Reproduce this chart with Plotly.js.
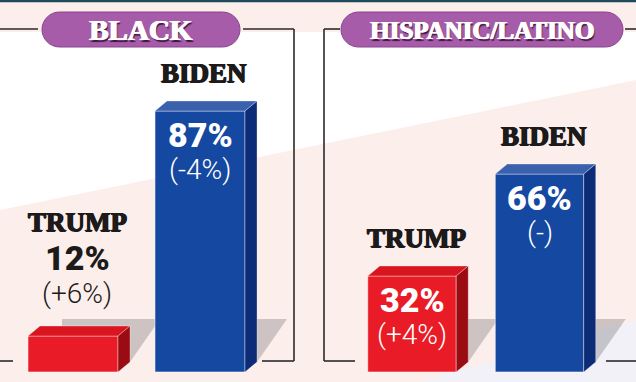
<!DOCTYPE html>
<html>
<head>
<meta charset="utf-8">
<script src="https://cdn.plot.ly/plotly-3.0.1.min.js"></script>
<style>html,body{margin:0;padding:0;background:#fcefeb;}#chart{width:636px;height:382px;}</style>
</head>
<body>
<div id="chart"></div>
<script>
// ---- data ----
const candidates = ['TRUMP', 'BIDEN'];
const groups = ['BLACK', 'HISPANIC/LATINO'];
const blackValues = [12, 87];
const blackChanges = ['(+6%)', '(-4%)'];
const hispanicValues = [32, 66];
const hispanicChanges = ['(+4%)', '(-)'];

// ---- layout constants ----
const W = 636, H = 382;
const Y_MIN = -10 / 3, Y_MAX = 124;
const PXY = H / (Y_MAX - Y_MIN);
const DX = 12, DY = 10;
const FRONT = ['#e81b26', '#1548a0'];
const TOP = ['#d9151f', '#3a60ae'];
const SIDE = ['#9a0b12', '#0c2c78'];
const SERIF = 'Liberation Serif';
const SANS = 'Roboto';
const BOLDEN_DARK = '0.7px 0 0 #1c1a1a, -0.7px 0 0 #1c1a1a, 0 0.5px 0 #1c1a1a';
const BOLDEN_PILL = '1px 0 0 #ffffff, -0.5px 0 0 #ffffff, 1.5px 1.5px 1px #3b1840';

const panels = [
  {values: blackValues, changes: blackChanges, xa: 'x', ya: 'y', range: [-73/127, 245/127], spacing: 127, width: 0.709, domain: [0, 0.5]},
  {values: hispanicValues, changes: hispanicChanges, xa: 'x2', ya: 'y2', range: [-94/127.5, 224/127.5], spacing: 127.5, width: 0.694, domain: [0.5, 1]}
];

const px = x => x / W;
const py = y => 1 - y / H;

const traces = [];
const shapes = [];
const annotations = [];

// background
shapes.push({type: 'path', xref: 'paper', yref: 'paper', layer: 'below', line: {width: 0}, fillcolor: '#ffffff',
  path: `M${px(0)},${py(32)} L${px(636)},${py(32)} L${px(636)},${py(80)} L${px(0)},${py(210)} Z`});
shapes.push({type: 'path', xref: 'paper', yref: 'paper', layer: 'below', line: {width: 0}, fillcolor: '#f1f1f7',
  path: `M${px(420)},${py(382)} L${px(636)},${py(320)} L${px(636)},${py(382)} Z`});
// top rule
shapes.push({type: 'line', xref: 'paper', yref: 'paper', x0: 0, x1: 1, y0: py(1), y1: py(1), line: {color: '#1e4a5c', width: 2.5}});

// frames
const seg = (x0, y0, x1, y1) => shapes.push({type: 'line', xref: 'paper', yref: 'paper', layer: 'below',
  x0: px(x0), y0: py(y0), x1: px(x1), y1: py(y1), line: {color: '#2a2a2a', width: 1.6}});
seg(0, 29, 38, 29); seg(243, 29, 294, 29); seg(294, 29, 294, 361); seg(262, 361, 294, 361); seg(0, 361, 13, 361);
seg(324, 29, 340, 29); seg(625, 29, 636, 29); seg(324, 29, 324, 361); seg(324, 361, 355, 361); seg(606, 361, 636, 361);

// title pills
function pill(x0, x1, y0, y1) {
  const r = (y1 - y0) / 2, k = 0.55 * r;
  const p = [
    `M${px(x0 + r)},${py(y0)}`, `L${px(x1 - r)},${py(y0)}`,
    `C${px(x1 - r + k)},${py(y0)} ${px(x1)},${py(y0 + r - k)} ${px(x1)},${py(y0 + r)}`,
    `C${px(x1)},${py(y0 + r + k)} ${px(x1 - r + k)},${py(y1)} ${px(x1 - r)},${py(y1)}`,
    `L${px(x0 + r)},${py(y1)}`,
    `C${px(x0 + r - k)},${py(y1)} ${px(x0)},${py(y0 + r + k)} ${px(x0)},${py(y0 + r)}`,
    `C${px(x0)},${py(y0 + r - k)} ${px(x0 + r - k)},${py(y0)} ${px(x0 + r)},${py(y0)} Z`
  ].join(' ');
  shapes.push({type: 'path', xref: 'paper', yref: 'paper', path: p, fillcolor: '#a65ca8', line: {color: '#8a4590', width: 1}});
}
pill(42, 240, 12, 47);
pill(341, 623, 12, 47);
annotations.push({xref: 'paper', yref: 'paper', x: px(141), y: py(30), text: groups[0], showarrow: false,
  xanchor: 'center', yanchor: 'middle', font: {family: SERIF, size: 29, color: '#ffffff', weight: 'bold', shadow: BOLDEN_PILL}});
annotations.push({xref: 'paper', yref: 'paper', x: px(482), y: py(30), text: groups[1], showarrow: false,
  xanchor: 'center', yanchor: 'middle', font: {family: SERIF, size: 25, color: '#ffffff', weight: 'bold', shadow: BOLDEN_PILL}});

panels.forEach((p, pi) => {
  traces.push({type: 'bar', x: candidates, y: p.values, xaxis: p.xa, yaxis: p.ya, width: p.width,
    marker: {color: FRONT, line: {color: 'rgba(255,255,255,0.55)', width: 1}}, hoverinfo: 'skip', showlegend: false});
  const Wpx = p.width * p.spacing;
  p.values.forEach((v, i) => {
    const Hpx = v * PXY;
    const common = {xref: p.xa, yref: p.ya, xsizemode: 'pixel', ysizemode: 'pixel', xanchor: i + p.width / 2};
    // shadow
    shapes.push(Object.assign({}, common, {type: 'path', yanchor: 0, layer: 'below', fillcolor: 'rgba(110,105,115,0.33)', line: {width: 0},
      path: `M${-Wpx + 34},53 L${DX + 30},53 L${DX},10 L${-Wpx + 34},10 Z`}));
    // top face
    shapes.push(Object.assign({}, common, {type: 'path', yanchor: v, fillcolor: TOP[i], line: {color: 'rgba(255,255,255,0.4)', width: 0.8},
      path: `M0,0 L${DX},${DY} L${DX - Wpx},${DY} L${-Wpx},0 Z`}));
    // side face
    shapes.push(Object.assign({}, common, {type: 'path', yanchor: v, fillcolor: SIDE[i], line: {color: 'rgba(255,255,255,0.4)', width: 0.8},
      path: `M0,0 L${DX},${DY} L${DX},${DY - Hpx} L0,${-Hpx} Z`}));

    const inside = v >= 25;
    const base = {xref: p.xa, yref: p.ya, x: i, y: v, showarrow: false, xanchor: 'center', yanchor: 'middle'};
    annotations.push(Object.assign({}, base, {text: candidates[i], yshift: inside ? 38 : 114, xshift: 4,
      font: {family: SERIF, size: 27, color: '#1c1a1a', weight: 'bold', shadow: BOLDEN_DARK}}));
    annotations.push(Object.assign({}, base, {text: v + '%', yshift: inside ? -24 : 78, xshift: inside ? 0 : 4,
      font: {family: SANS, size: 34, color: inside ? '#ffffff' : '#1c1a1a', weight: 900}}));
    annotations.push(Object.assign({}, base, {text: p.changes[i], yshift: inside ? -58 : 43, xshift: inside ? 0 : 4,
      font: {family: SANS, size: 28, color: inside ? '#ffffff' : '#1c1a1a', weight: 300}}));
  });
});

const hidden = {showgrid: false, zeroline: false, showticklabels: false, showline: false, ticks: '', fixedrange: true};
const layout = {
  width: W, height: H, margin: {l: 0, r: 0, t: 0, b: 0},
  paper_bgcolor: '#fcefeb', plot_bgcolor: 'rgba(0,0,0,0)',
  bargap: 0, showlegend: false,
  xaxis: Object.assign({}, hidden, {type: 'category', categoryarray: candidates, range: panels[0].range, domain: panels[0].domain, anchor: 'y'}),
  yaxis: Object.assign({}, hidden, {range: [Y_MIN, Y_MAX], domain: [0, 1], anchor: 'x'}),
  xaxis2: Object.assign({}, hidden, {type: 'category', categoryarray: candidates, range: panels[1].range, domain: panels[1].domain, anchor: 'y2'}),
  yaxis2: Object.assign({}, hidden, {range: [Y_MIN, Y_MAX], domain: [0, 1], anchor: 'x2'}),
  shapes: shapes, annotations: annotations
};
Plotly.newPlot('chart', traces, layout, {displayModeBar: false, staticPlot: true});
</script>
</body>
</html>
